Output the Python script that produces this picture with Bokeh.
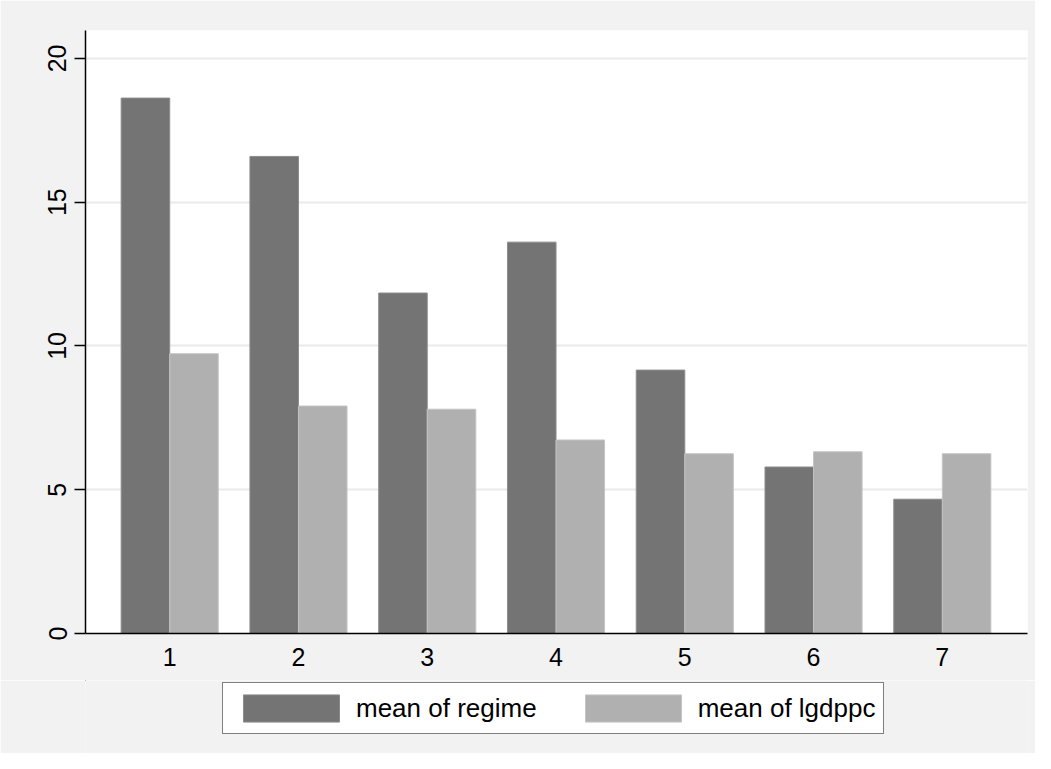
from bokeh.plotting import figure
from bokeh.layouts import column
from bokeh.models import ColumnDataSource, Range1d, FixedTicker, Legend, LegendItem
from bokeh.transform import dodge
from bokeh.embed import file_html
from bokeh.resources import INLINE

categories = [1, 2, 3, 4, 5, 6, 7]
regime = [18.62, 16.59, 11.84, 13.61, 9.16, 5.79, 4.67]
lgdppc = [9.73, 7.91, 7.80, 6.73, 6.25, 6.32, 6.25]
y_ticks = [0, 5, 10, 15, 20]
series_labels = ["mean of regime", "mean of lgdppc"]

FONT = "Liberation Sans"
DARK = "#747474"
LIGHT = "#B0B0B0"
BG = "#F2F2F2"
DARK_EDGE = "#8C8C8C"
LIGHT_EDGE = "#C4C4C4"

src = ColumnDataSource(data=dict(cat=categories, regime=regime, lgdppc=lgdppc))

p = figure(width=1035, height=680, output_backend="svg", toolbar_location=None,
           x_range=Range1d(0.346, 7.6615), y_range=Range1d(0, 20.97),
           min_border_left=85, min_border_right=8, min_border_top=30, min_border_bottom=47)

p.background_fill_color = "white"
p.border_fill_color = BG
p.outline_line_color = None

bw = 0.377
p.vbar(x=dodge("cat", -bw / 2), top="regime", width=bw, source=src,
       fill_color=DARK, line_color=DARK_EDGE, line_width=1)
p.vbar(x=dodge("cat", bw / 2), top="lgdppc", width=bw, source=src,
       fill_color=LIGHT, line_color=LIGHT_EDGE, line_width=1)

# x axis
xa = p.xaxis[0]
xa.ticker = FixedTicker(ticks=categories)
xa.major_tick_out = 0
xa.major_tick_in = 0
xa.minor_tick_line_color = None
xa.axis_line_color = "black"
xa.axis_line_width = 1.5
xa.major_label_text_font = FONT
xa.major_label_text_font_size = "25px"
xa.major_label_text_color = "black"
xa.major_label_standoff = 14

# y axis
ya = p.yaxis[0]
ya.ticker = FixedTicker(ticks=y_ticks)
ya.major_tick_out = 11
ya.major_tick_in = 0
ya.major_tick_line_width = 1.5
ya.major_tick_line_color = "black"
ya.minor_tick_line_color = None
ya.axis_line_color = "black"
ya.axis_line_width = 1.5
ya.major_label_orientation = "parallel"
ya.major_label_text_font = FONT
ya.major_label_text_font_size = "25px"
ya.major_label_text_color = "black"
ya.major_label_standoff = 8

p.xgrid.grid_line_color = None
p.ygrid.ticker = FixedTicker(ticks=y_ticks)
p.ygrid.grid_line_color = "#EAEAEA"
p.ygrid.grid_line_width = 2

# legend strip: its own figure, so the box sits below the bar area;
# its bars use the same data but lie far outside its (hidden) ranges
q = figure(width=1035, height=73, output_backend="svg", toolbar_location=None,
           x_axis_location=None, y_axis_location=None,
           x_range=Range1d(100, 101), y_range=Range1d(-3, -2),
           min_border_left=85, min_border_right=8, min_border_top=0, min_border_bottom=0)
q.background_fill_color = BG
q.border_fill_color = BG
q.outline_line_color = None
q.grid.visible = False
k1 = q.vbar(x="cat", top="regime", width=bw, source=src,
            fill_color=DARK, line_color=DARK_EDGE, line_width=1)
k2 = q.vbar(x="cat", top="lgdppc", width=bw, source=src,
            fill_color=LIGHT, line_color=LIGHT_EDGE, line_width=1)

legend = Legend(items=[LegendItem(label=series_labels[0], renderers=[k1]),
                       LegendItem(label=series_labels[1], renderers=[k2])],
                orientation="horizontal", location=(137, 19),
                glyph_width=120, glyph_height=34, label_height=27,
                label_standoff=5, spacing=36, padding=8, margin=0,
                border_line_color="black", border_line_width=1.5,
                background_fill_color="white", background_fill_alpha=1,
                label_text_font=FONT, label_text_font_size="26px",
                label_text_color="black")
q.add_layout(legend, "center")

layout = column(p, q, spacing=0)
open("out.html", "w").write(file_html(layout, INLINE))
